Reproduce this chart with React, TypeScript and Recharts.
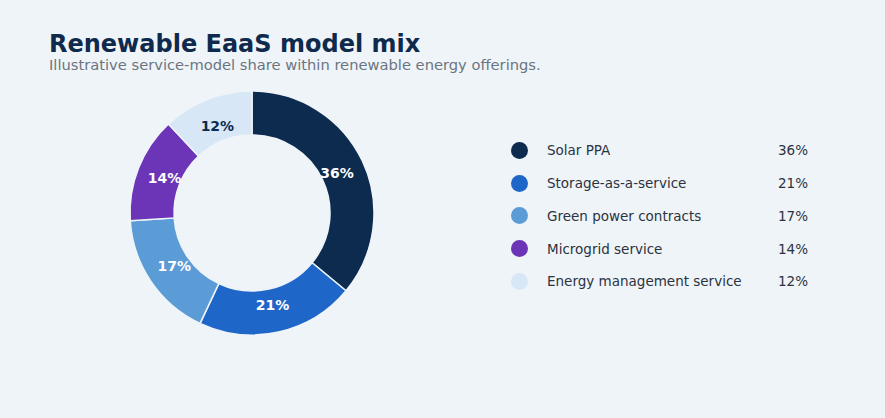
import * as React from 'react'
import { PieChart, Pie, Cell } from 'recharts'

const categories = [
  'Solar PPA',
  'Storage-as-a-service',
  'Green power contracts',
  'Microgrid service',
  'Energy management service',
]
const shares = [36, 21, 17, 14, 12]
const colors = ['#0c2b4f', '#1f66c9', '#5b9cd7', '#6c35b8', '#d7e7f6']
const labelColors = ['#ffffff', '#ffffff', '#ffffff', '#ffffff', '#0c2b4f']

const BG = '#eff4f9'
const FONT = '"DejaVu Sans", Verdana, sans-serif'
const RADIAN = Math.PI / 180

const data = categories.map((name, i) => ({ name, value: shares[i] }))

function SliceLabel(props: any) {
  const { cx, cy, midAngle, innerRadius, outerRadius, index, value } = props
  const r = (innerRadius + outerRadius) / 2 - 6
  const x = cx + r * Math.cos(-midAngle * RADIAN)
  const y = cy + r * Math.sin(-midAngle * RADIAN)
  return (
    <text
      x={x}
      y={y}
      fill={labelColors[index]}
      textAnchor="middle"
      dominantBaseline="central"
      fontSize={14}
      fontWeight={700}
      fontFamily={FONT}
    >
      {value}%
    </text>
  )
}

// legend sits beside the donut, plain html
function LegendList() {
  return (
    <div style={{ fontFamily: FONT, fontSize: 13.5, color: '#2b3340' }}>
      {data.map((d, i) => (
        <div key={d.name} style={{ display: 'flex', alignItems: 'center', height: 32.75 }}>
          <span
            style={{
              width: 17,
              height: 17,
              borderRadius: '50%',
              background: colors[i],
              display: 'inline-block',
              marginRight: 19,
            }}
          />
          <span style={{ flex: 1 }}>{d.name}</span>
          <span>{d.value}%</span>
        </div>
      ))}
    </div>
  )
}

export default function App() {
  return (
    <div
      style={{
        position: 'absolute',
        left: 0,
        top: 0,
        width: 885,
        height: 418,
        background: BG,
        overflow: 'hidden',
      }}
    >
      <div
        style={{
          position: 'absolute',
          left: 49,
          top: 32,
          fontFamily: FONT,
          fontSize: 24,
          fontWeight: 700,
          color: '#0f2a4d',
          lineHeight: '24px',
          whiteSpace: 'nowrap',
        }}
      >
        Renewable EaaS model mix
      </div>
      <div
        style={{
          position: 'absolute',
          left: 49,
          top: 58,
          fontFamily: FONT,
          fontSize: 14.7,
          color: '#6b7482',
          lineHeight: '14px',
          whiteSpace: 'nowrap',
        }}
      >
        Illustrative service-model share within renewable energy offerings.
      </div>
      <div style={{ position: 'absolute', left: 0, top: 0 }}>
        <PieChart width={885} height={418} margin={{ top: 0, right: 0, bottom: 0, left: 0 }}>
          <Pie
            data={data}
            dataKey="value"
            nameKey="name"
            cx={252}
            cy={213}
            innerRadius={78}
            outerRadius={122}
            startAngle={90}
            endAngle={-270}
            stroke={BG}
            strokeWidth={1.5}
            label={SliceLabel}
            labelLine={false}
            isAnimationActive={false}
          >
            {data.map((d, i) => (
              <Cell key={d.name} fill={colors[i]} />
            ))}
          </Pie>
        </PieChart>
      </div>
      <div style={{ position: 'absolute', left: 511, top: 134, width: 297 }}>
        <LegendList />
      </div>
    </div>
  )
}
